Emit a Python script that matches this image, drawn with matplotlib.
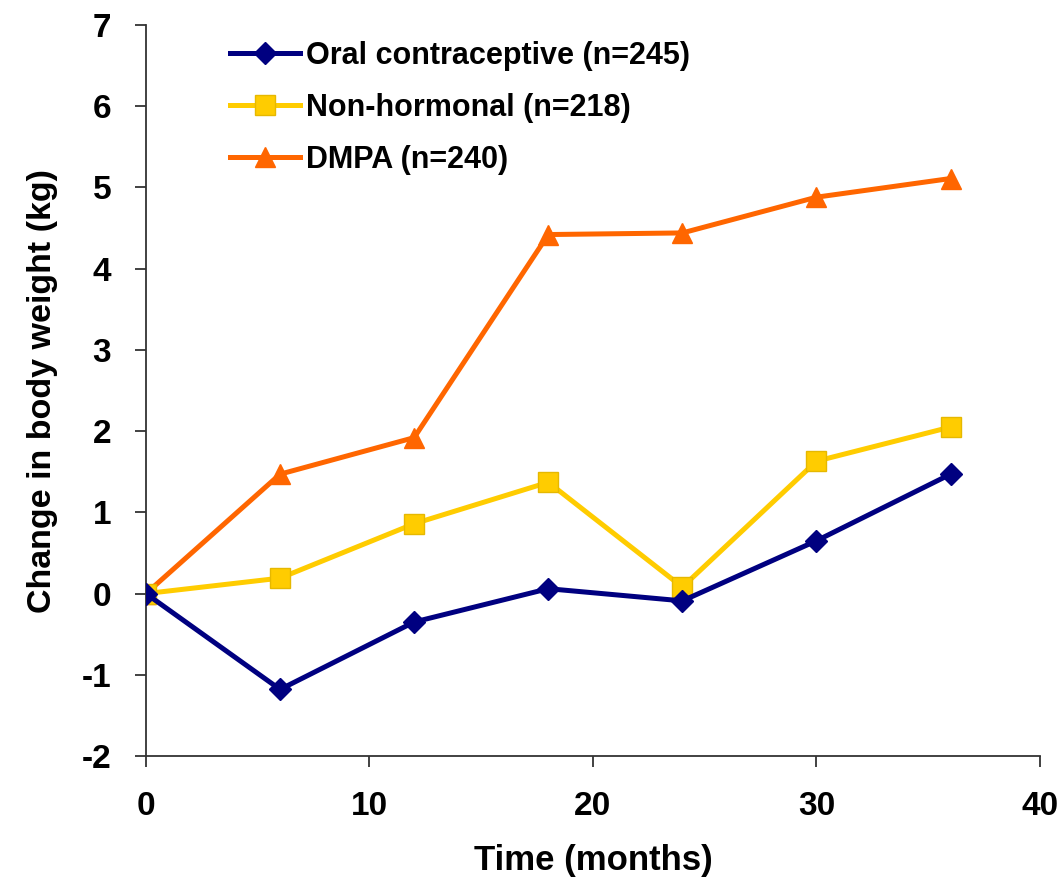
import matplotlib
matplotlib.use("Agg")
import matplotlib.pyplot as plt

months = [0, 6, 12, 18, 24, 30, 36]
oral = [0, -1.18, -0.35, 0.06, -0.09, 0.65, 1.47]
nonhormonal = [0, 0.19, 0.86, 1.37, 0.08, 1.63, 2.05]
dmpa = [0, 1.47, 1.92, 4.42, 4.44, 4.88, 5.11]
labels = ["Oral contraceptive (n=245)", "Non-hormonal (n=218)", "DMPA (n=240)"]
xticks = [0, 10, 20, 30, 40]
yticks = [-2, -1, 0, 1, 2, 3, 4, 5, 6, 7]

plt.rcParams['font.family'] = ['Liberation Sans', 'DejaVu Sans']
plt.rcParams['axes.unicode_minus'] = False

fig = plt.figure(figsize=(10.6, 8.83), dpi=100)
ax = fig.add_axes([0.1377, 0.1438, 0.8434, 0.8279])

ax.plot(months, oral, color='#000080', lw=3.6, marker='D', ms=11, label=labels[0], zorder=3)
ax.plot(months, nonhormonal, color='#FFCC00', lw=3.6, marker='s', ms=14.5, label=labels[1],
        markeredgecolor='#E6B800', zorder=2)
ax.plot(months, dmpa, color='#FF6600', lw=3.6, marker='^', ms=15, label=labels[2], zorder=1)

ax.set_xlim(0, 40)
ax.set_ylim(-2, 7)
ax.set_xticks(xticks)
ax.set_yticks(yticks)
ax.set_xticklabels([str(v) for v in xticks])
ax.set_yticklabels([str(v) for v in yticks])
for s in ['top', 'right']:
    ax.spines[s].set_visible(False)
for s in ['left', 'bottom']:
    ax.spines[s].set_linewidth(1.3)
    ax.spines[s].set_color('#333333')
ax.tick_params(direction='out', length=8, width=1.3, colors='#333333', labelcolor='black',
               labelsize=24, pad=17)
for t in ax.get_xticklabels() + ax.get_yticklabels():
    t.set_fontweight('bold')

ax.set_xlabel('Time (months)', fontsize=25, fontweight='bold', labelpad=16)
ax.set_ylabel('Change in body weight (kg)', fontsize=24.5, fontweight='bold', labelpad=17)

leg = ax.legend(loc='upper left', bbox_to_anchor=(0.063, 1.016), frameon=False,
                prop={'weight': 'bold', 'size': 22},
                handlelength=2.3, handletextpad=0.2, labelspacing=0.72)

fig.savefig('out.png', dpi=100)
